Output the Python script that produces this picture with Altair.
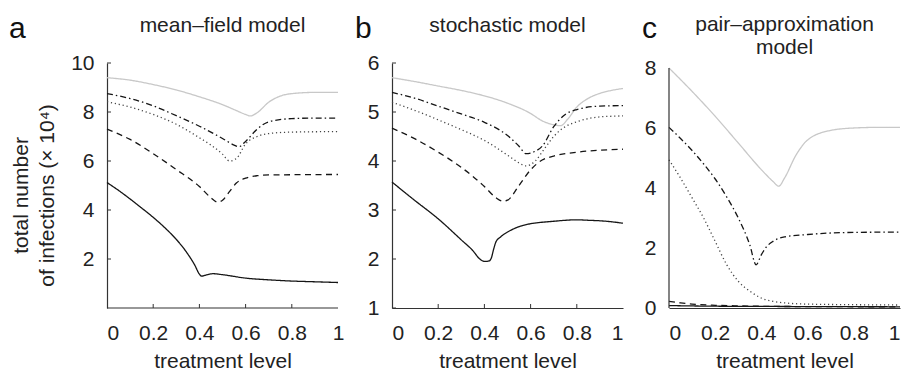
import altair as alt
import pandas as pd

# ---------------- data (values x 10^4) ----------------
# panel a: mean-field model
mf_gray_x = [0, 0.1, 0.2, 0.3, 0.4, 0.5, 0.55, 0.6, 0.62, 0.65, 0.7, 0.75, 0.8, 0.9, 1]
mf_gray_y = [9.4, 9.3, 9.12, 8.9, 8.62, 8.3, 8.1, 7.9, 7.84, 7.97, 8.4, 8.65, 8.75, 8.8, 8.8]
mf_dashdot_x = [0, 0.1, 0.2, 0.3, 0.4, 0.5, 0.55, 0.57, 0.6, 0.65, 0.7, 0.8, 0.9, 1]
mf_dashdot_y = [8.75, 8.55, 8.25, 7.85, 7.42, 6.92, 6.65, 6.58, 6.8, 7.3, 7.6, 7.73, 7.75, 7.75]
mf_dotted_x = [0, 0.1, 0.2, 0.3, 0.4, 0.45, 0.5, 0.53, 0.56, 0.6, 0.65, 0.7, 0.8, 1]
mf_dotted_y = [8.42, 8.2, 7.9, 7.5, 6.95, 6.65, 6.28, 6.0, 6.1, 6.7, 7.0, 7.12, 7.18, 7.2]
mf_dashed_x = [0, 0.1, 0.2, 0.3, 0.4, 0.45, 0.48, 0.5, 0.53, 0.56, 0.6, 0.65, 0.7, 1]
mf_dashed_y = [7.3, 6.88, 6.3, 5.65, 4.96, 4.5, 4.32, 4.4, 4.75, 5.1, 5.3, 5.4, 5.43, 5.45]
mf_solid_x = [0, 0.05, 0.1, 0.15, 0.2, 0.25, 0.3, 0.35, 0.38, 0.4, 0.41, 0.43, 0.46, 0.5, 0.6, 0.7, 0.8, 0.9, 1]
mf_solid_y = [5.12, 4.8, 4.45, 4.08, 3.7, 3.28, 2.8, 2.2, 1.75, 1.38, 1.3, 1.35, 1.4, 1.36, 1.22, 1.15, 1.1, 1.07, 1.04]

# panel b: stochastic model
st_gray_x = [0, 0.1, 0.2, 0.3, 0.4, 0.5, 0.6, 0.65, 0.7, 0.73, 0.76, 0.8, 0.85, 0.9, 0.95, 1]
st_gray_y = [5.7, 5.62, 5.53, 5.44, 5.33, 5.18, 4.97, 4.82, 4.74, 4.72, 4.85, 5.1, 5.28, 5.38, 5.44, 5.48]
st_dashdot_x = [0, 0.1, 0.2, 0.3, 0.4, 0.5, 0.55, 0.58, 0.62, 0.65, 0.7, 0.75, 0.8, 0.9, 1]
st_dashdot_y = [5.4, 5.28, 5.12, 4.96, 4.79, 4.52, 4.3, 4.15, 4.2, 4.3, 4.7, 4.95, 5.05, 5.12, 5.13]
st_dotted_x = [0, 0.1, 0.2, 0.3, 0.4, 0.5, 0.55, 0.58, 0.62, 0.66, 0.7, 0.75, 0.8, 0.9, 1]
st_dotted_y = [5.2, 5.03, 4.84, 4.64, 4.42, 4.12, 3.96, 3.9, 4.0, 4.25, 4.5, 4.7, 4.8, 4.9, 4.92]
st_dashed_x = [0, 0.1, 0.2, 0.3, 0.4, 0.45, 0.48, 0.5, 0.55, 0.6, 0.65, 0.7, 0.8, 0.9, 1]
st_dashed_y = [4.67, 4.45, 4.18, 3.87, 3.48, 3.25, 3.18, 3.2, 3.5, 3.82, 4.02, 4.1, 4.18, 4.22, 4.24]
st_solid_x = [0, 0.1, 0.2, 0.3, 0.35, 0.38, 0.4, 0.42, 0.43, 0.44, 0.45, 0.47, 0.5, 0.52, 0.55, 0.6,
              0.65, 0.7, 0.75, 0.8, 0.85, 0.9, 0.95, 1]
st_solid_y = [3.57, 3.19, 2.82, 2.39, 2.17, 2.0, 1.95, 1.96, 2.02, 2.2, 2.35, 2.45, 2.55, 2.6, 2.66, 2.72,
              2.75, 2.77, 2.79, 2.8, 2.79, 2.78, 2.76, 2.73]

# panel c: pair-approximation model
pa_gray_x = [0, 0.1, 0.2, 0.3, 0.4, 0.45, 0.475, 0.5, 0.55, 0.6, 0.7, 0.8, 0.9, 1]
pa_gray_y = [8.0, 7.22, 6.39, 5.5, 4.61, 4.22, 4.06, 4.33, 5.1, 5.6, 5.92, 6.0, 6.02, 6.02]
pa_dashdot_x = [0, 0.05, 0.1, 0.15, 0.2, 0.25, 0.3, 0.35, 0.377, 0.4, 0.42, 0.45, 0.5, 0.6, 0.7, 0.8, 1]
pa_dashdot_y = [6.02, 5.65, 5.25, 4.8, 4.3, 3.7, 3.0, 2.1, 1.44, 1.78, 2.02, 2.22, 2.37, 2.45, 2.5, 2.52, 2.53]
pa_dotted_x = [0, 0.05, 0.1, 0.15, 0.2, 0.25, 0.3, 0.35, 0.4, 0.45, 0.5, 0.6, 0.8, 1]
pa_dotted_y = [4.94, 4.33, 3.67, 3.0, 2.22, 1.44, 0.89, 0.56, 0.33, 0.22, 0.17, 0.13, 0.11, 0.1]
pa_dashed_x = [0, 0.05, 0.1, 0.2, 0.3, 0.5, 1]
pa_dashed_y = [0.22, 0.17, 0.13, 0.09, 0.07, 0.05, 0.04]
pa_solid_x = [0, 0.2, 0.5, 1]
pa_solid_y = [0.08, 0.06, 0.05, 0.04]

x_ticks = [0, 0.2, 0.4, 0.6, 0.8, 1]
a_yticks = [2, 4, 6, 8, 10]
b_yticks = [1, 2, 3, 4, 5, 6]
c_yticks = [0, 2, 4, 6, 8]

SERIES = ["gray", "dashdot", "dotted", "dashed", "solid"]
COLORS = ["#c8c8c8", "#151515", "#444444", "#151515", "#151515"]
DASHES = [[1, 0], [6, 3, 1.5, 3], [1.2, 2.8], [6, 4.5], [1, 0]]

FONT = "Liberation Sans"
FS = 21
H = 245
TXT = "#222222"


def frame(d):
    rows = []
    for name, (xs, ys) in d.items():
        for i, (x, y) in enumerate(zip(xs, ys)):
            rows.append({"s": name, "x": x, "y": y, "o": i})
    return pd.DataFrame(rows)


def panel(df, width, xmax, ydom, yvals, letter, title_lines, title_y,
          ytitle=None, x_rule=False, y_rule=None, ticks=True, xtitle_x=None):
    xsc = alt.Scale(domain=[0, xmax], nice=False, zero=False)
    ysc = alt.Scale(domain=ydom, nice=False, zero=False)
    xax_kw = dict(values=x_ticks, format="~g", title="treatment level", titleY=59,
                  titleBaseline="alphabetic", domain=not x_rule, labelBaseline="alphabetic",
                  labelPadding=31)
    if xtitle_x is not None:
        xax_kw["titleX"] = xtitle_x
    xax = alt.Axis(**xax_kw)
    yax_kw = dict(values=yvals, format="d", domain=y_rule is None, labelPadding=13)
    if ytitle:
        yax_kw.update(title=ytitle, titleAngle=270, titleX=-80, titleY=132,
                      titleAlign="center", titleBaseline="alphabetic", titleLineHeight=26)
    else:
        yax_kw.update(title=None)
    yax = alt.Axis(**yax_kw)

    X = lambda f: alt.X(f, scale=xsc, axis=xax)
    Y = lambda f: alt.Y(f, scale=ysc, axis=yax)

    lines = alt.Chart(df).mark_line(strokeWidth=1.3, interpolate="monotone").encode(
        x=X("x:Q"), y=Y("y:Q"),
        color=alt.Color("s:N", scale=alt.Scale(domain=SERIES, range=COLORS), legend=None),
        strokeDash=alt.StrokeDash("s:N", scale=alt.Scale(domain=SERIES, range=DASHES), legend=None),
        order=alt.Order("o:Q"),
    )
    layers = [lines]
    if ticks:
        xt = alt.Chart(pd.DataFrame({"tx": x_ticks[1:-1]})).mark_rule(color="#333", strokeWidth=1).encode(
            x=X("tx:Q"), y=alt.value(H), y2=alt.value(H - 4))
        yt = alt.Chart(pd.DataFrame({"ty": yvals})).mark_rule(color="#333", strokeWidth=1).encode(
            y=Y("ty:Q"), x=alt.value(0), x2=alt.value(4))
        layers += [xt, yt]
    if x_rule:
        layers.append(alt.Chart(pd.DataFrame({"k": [0]})).mark_rule(color="#333", strokeWidth=1.2).encode(
            x=alt.datum(0), x2=alt.datum(1), y=alt.value(H)))
    if y_rule is not None:
        layers.append(alt.Chart(pd.DataFrame({"k": [0]})).mark_rule(color="#333", strokeWidth=1.2).encode(
            y=alt.datum(y_rule[0]), y2=alt.datum(y_rule[1]), x=alt.value(0)))
    let_df = pd.DataFrame({"t": [letter]})
    layers.append(alt.Chart(let_df).mark_text(fontSize=30, font=FONT, color="#111", align="left",
                                              baseline="alphabetic").encode(
        text="t:N", x=alt.value(letter_x[letter]), y=alt.value(-25.5)))
    tdf = pd.DataFrame({"t": ["\n".join(title_lines)]})
    layers.append(alt.Chart(tdf).mark_text(fontSize=FS, font=FONT, color=TXT, align="center",
                                           baseline="alphabetic", lineBreak="\n", lineHeight=22.5).encode(
        text="t:N", x=alt.value(115.5), y=alt.value(title_y)))
    return alt.layer(*layers).properties(width=width, height=H)


letter_x = {"a": -98, "b": -37, "c": -27}

dfa = frame({"gray": (mf_gray_x, mf_gray_y), "dashdot": (mf_dashdot_x, mf_dashdot_y),
             "dotted": (mf_dotted_x, mf_dotted_y), "dashed": (mf_dashed_x, mf_dashed_y),
             "solid": (mf_solid_x, mf_solid_y)})
dfb = frame({"gray": (st_gray_x, st_gray_y), "dashdot": (st_dashdot_x, st_dashdot_y),
             "dotted": (st_dotted_x, st_dotted_y), "dashed": (st_dashed_x, st_dashed_y),
             "solid": (st_solid_x, st_solid_y)})
dfc = frame({"gray": (pa_gray_x, pa_gray_y), "dashdot": (pa_dashdot_x, pa_dashdot_y),
             "dotted": (pa_dotted_x, pa_dotted_y), "dashed": (pa_dashed_x, pa_dashed_y),
             "solid": (pa_solid_x, pa_solid_y)})

pa = panel(dfa, 239, 239 / 231, [0, 10], a_yticks, "a", ["mean–field model"], -31,
           ytitle=["total number", "of infections (× 10⁴)"], x_rule=True, xtitle_x=115.5)
pb = panel(dfb, 231, 1, [1, 6], b_yticks, "b", ["stochastic model"], -31)
pc = panel(dfc, 231, 1, [0, 245 / 30], c_yticks, "c", ["pair–approximation", "model"], -31.8,
           y_rule=(0, 8), ticks=False)

chart = alt.hconcat(pa, pb, pc, spacing=46, bounds="flush").configure(
    padding={"left": 9, "top": 13, "right": 0, "bottom": 1}, font=FONT
).configure_view(stroke=None).configure_axis(
    grid=False, ticks=False, tickSize=0, domainColor="#333", domainWidth=1.2,
    labelFont=FONT, labelFontSize=FS, labelColor=TXT,
    titleFont=FONT, titleFontSize=FS, titleColor=TXT, titleFontWeight="normal",
)

chart.save("out.html", embed_options={"renderer": "svg", "actions": False})
